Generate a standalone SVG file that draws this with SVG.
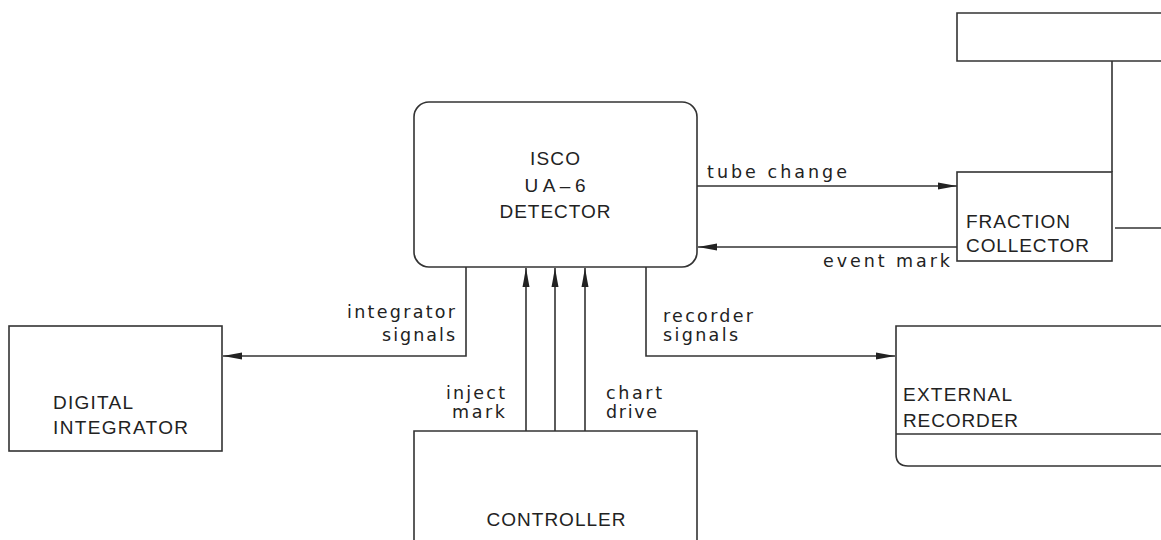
<svg xmlns="http://www.w3.org/2000/svg" width="1161" height="540" viewBox="0 0 1161 540">
<defs>
<marker id="arr" markerUnits="userSpaceOnUse" markerWidth="20" markerHeight="8" refX="19" refY="4" orient="auto">
<path d="M0,0.5 L19,4 L0,7.5 Z" fill="#222"/>
</marker>
<style>
.box{fill:none;stroke:#333;stroke-width:1.6}
.ln{fill:none;stroke:#333;stroke-width:1.6}
.t{font-family:"Liberation Sans",Arial,sans-serif;font-size:19px;fill:#222}
.l{font-family:"DejaVu Sans","Liberation Sans",sans-serif;font-size:17.5px;fill:#222}
.m{text-anchor:middle}
.e{text-anchor:end}
</style>
</defs>
<rect width="1161" height="540" fill="#fff"/>

<g id="detector">
<rect class="box" x="414" y="102" width="283" height="165" rx="15" ry="15"/>
<text class="t m" x="555" y="165" textLength="50" lengthAdjust="spacing">ISCO</text>
<text class="t m" x="555" y="192" textLength="61" lengthAdjust="spacing">UA–6</text>
<text class="t m" x="555" y="218" textLength="111" lengthAdjust="spacing">DETECTOR</text>
</g>

<g id="top-box">
<path class="box" d="M1165,13 H957 V61 H1165"/>
</g>

<g id="fraction-collector">
<rect class="box" x="957" y="172" width="155" height="89"/>
<text class="t" x="966" y="228" textLength="104" lengthAdjust="spacing">FRACTION</text>
<text class="t" x="966" y="252" textLength="123" lengthAdjust="spacing">COLLECTOR</text>
</g>

<g id="digital-integrator">
<rect class="box" x="9" y="326" width="213" height="125"/>
<text class="t" x="53" y="409" textLength="80" lengthAdjust="spacing">DIGITAL</text>
<text class="t" x="53" y="434" textLength="135" lengthAdjust="spacing">INTEGRATOR</text>
</g>

<g id="controller">
<path class="box" d="M414,545 V431 H697 V545"/>
<text class="t m" x="556" y="526" textLength="139" lengthAdjust="spacing">CONTROLLER</text>
</g>

<g id="external-recorder">
<path class="box" d="M1175,326 H896 V454 Q896,466 908,466 H1175"/>
<line class="ln" x1="896" y1="434" x2="1165" y2="434"/>
<text class="t" x="903" y="401" textLength="109" lengthAdjust="spacing">EXTERNAL</text>
<text class="t" x="903" y="427" textLength="115" lengthAdjust="spacing">RECORDER</text>
</g>

<g id="connectors">
<line class="ln" x1="697" y1="186" x2="957" y2="186" marker-end="url(#arr)"/>
<line class="ln" x1="957" y1="247" x2="698" y2="247" marker-end="url(#arr)"/>
<polyline class="ln" points="466,267 466,356 223,356" marker-end="url(#arr)"/>
<polyline class="ln" points="646,267 646,356 895,356" marker-end="url(#arr)"/>
<line class="ln" x1="526" y1="431" x2="526" y2="268" marker-end="url(#arr)"/>
<line class="ln" x1="555" y1="431" x2="555" y2="268" marker-end="url(#arr)"/>
<line class="ln" x1="585" y1="431" x2="585" y2="268" marker-end="url(#arr)"/>
<line class="ln" x1="1112" y1="61" x2="1112" y2="172"/>
<line class="ln" x1="1115" y1="228" x2="1165" y2="228"/>
</g>

<g id="labels">
<text class="l" x="707" y="178" textLength="140" lengthAdjust="spacing">tube change</text>
<text class="l" x="823" y="267" textLength="127" lengthAdjust="spacing">event mark</text>
<text class="l" x="347" y="318" textLength="108" lengthAdjust="spacing">integrator</text>
<text class="l" x="382" y="341" textLength="73" lengthAdjust="spacing">signals</text>
<text class="l" x="446" y="399" textLength="59" lengthAdjust="spacing">inject</text>
<text class="l" x="452" y="418" textLength="53" lengthAdjust="spacing">mark</text>
<text class="l" x="606" y="399" textLength="56" lengthAdjust="spacing">chart</text>
<text class="l" x="606" y="418" textLength="51" lengthAdjust="spacing">drive</text>
<text class="l" x="663" y="322" textLength="90" lengthAdjust="spacing">recorder</text>
<text class="l" x="663" y="341" textLength="75" lengthAdjust="spacing">signals</text>
</g>
</svg>
